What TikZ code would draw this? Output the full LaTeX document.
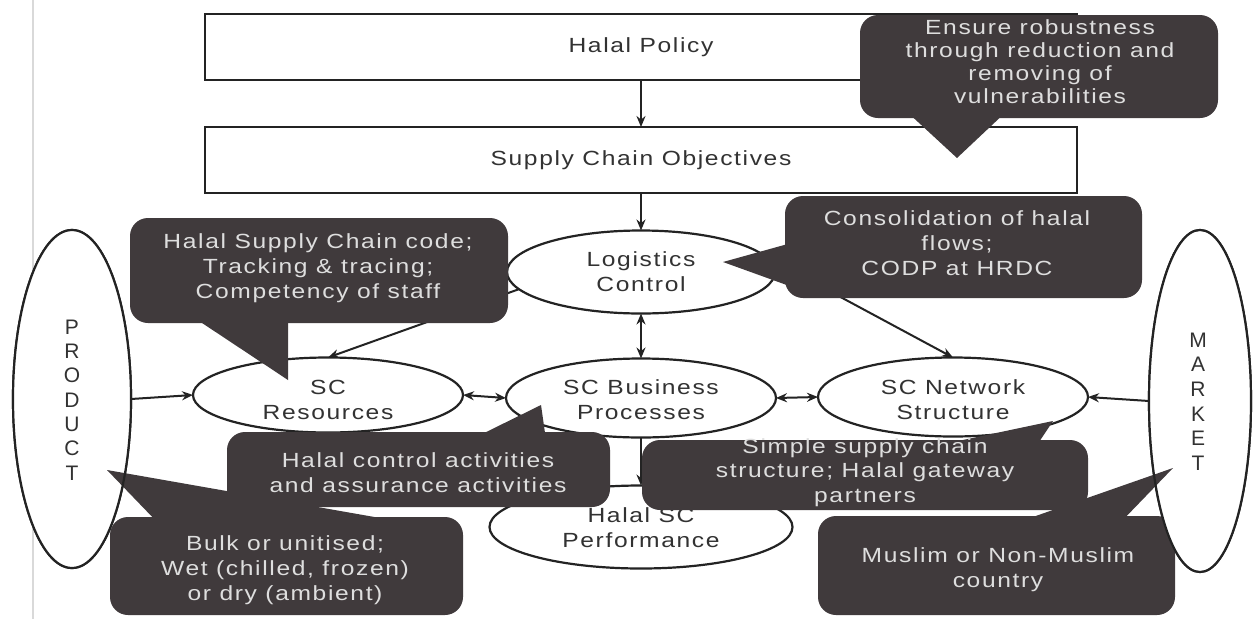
\documentclass[tikz,border=0pt]{standalone}
\usepackage{fontspec}
\setmainfont{Liberation Sans}
\newfontfamily\diag[FakeStretch=1.2,LetterSpace=8]{Liberation Sans}
\usetikzlibrary{shapes.geometric,arrows.meta}
\definecolor{cfill}{RGB}{64,58,60}
\definecolor{ctext}{RGB}{222,222,222}
\definecolor{ink}{RGB}{35,35,35}
\definecolor{txt}{RGB}{50,50,50}
\begin{document}
\begin{tikzpicture}[x=1pt,y=-1pt,
  every node/.style={inner sep=0pt, outer sep=0pt},
  fnt/.style={font=\diag\fontsize{20.5}{#1}\selectfont},
  fnt/.default=25,
  boxnode/.style={draw=ink, line width=2.2pt, fill=white, minimum width=872pt, minimum height=66pt},
  oval/.style={ellipse, draw=ink, line width=2.2pt, fill=white},
  ovaledge/.style={ellipse, draw=ink, line width=2.2pt},
  callout/.style={fill=cfill, rounded corners=18pt},
  btxt/.style={fnt, text=txt, align=center},
  ctxt/.style={fnt=#1, text=ctext, align=center},
  ctxt/.default=25,
  conn/.style={draw=ink, line width=2pt, -{Stealth[length=11pt,width=9pt]}},
  dconn/.style={draw=ink, line width=2pt, {Stealth[length=11pt,width=9pt]}-{Stealth[length=11pt,width=9pt]}},
]
\useasboundingbox (0,0) rectangle (1254,619);
\fill[white] (0,0) rectangle (1254,619);
\draw[line width=1.2pt, color=black!15] (33,0) -- (33,619);

% main boxes
\node[boxnode] (pol) at (641,47) {};
\node[btxt] (polt) at (641,47) {Halal Policy};
\node[boxnode] (obj) at (641,160) {};
\node[btxt] (objt) at (641,160) {Supply Chain Objectives};

% ellipses
\node[oval, minimum width=268pt, minimum height=83pt] (L) at (641,272) {};
\node[btxt] (Lt) at (641,272) {Logistics\\Control};
\node[oval, minimum width=270pt, minimum height=75pt] (R) at (328,395) {};
\node[btxt] (Rt) at (328,400) {SC\\Resources};
\node[oval, minimum width=270pt, minimum height=79pt] (B) at (641,398) {};
\node[btxt] (Bt) at (641,400) {SC Business\\Processes};
\node[oval, minimum width=270pt, minimum height=79pt] (N) at (953,397) {};
\node[btxt] (Nt) at (953,400) {SC Network\\Structure};
\node[oval, minimum width=303pt, minimum height=83pt] (P) at (641,527) {};
\node[btxt] (Pt) at (641,528) {Halal SC\\Performance};
\node[oval, minimum width=118pt, minimum height=338pt] (prod) at (72,399) {};
\node[oval, minimum width=102pt, minimum height=342pt] (mkt) at (1200,401) {};

% connectors
\draw[conn] (pol.south) -- (obj.north);
\draw[conn] (obj.south) -- (L.north);
\draw[dconn] (L.south) -- (B.north);
\draw[conn] (L.188) -- (R.north);
\draw[conn] (L.7) -- (N.north);
\draw[dconn] (R.east) -- (B.west);
\draw[dconn] (B.east) -- (N.west);
\draw[conn] (B.south) -- (P.north);
\draw[conn] (prod.east) -- (R.west);
\draw[conn] (mkt.west) -- (N.east);

% callouts
\node[callout, minimum width=358pt, minimum height=103pt] (c1) at (1039,66.5) {};
\fill[cfill] (905,110) -- (957,158) -- (1008,110) -- cycle;
\node[ctxt=23] (t1) at (1040,61.5) {Ensure robustness\\through reduction and\\removing of\\vulnerabilities};

\node[callout, minimum width=357pt, minimum height=102pt] (c2) at (963.5,247) {};
\fill[cfill] (795,242) -- (723,262) -- (795,288) -- cycle;
\node[ctxt] (t2) at (957,243) {Consolidation of halal\\flows;\\CODP at HRDC};

\node[callout, minimum width=378pt, minimum height=105pt] (c3) at (319,270.5) {};
\fill[cfill] (190,315) -- (288,380) -- (288,315) -- cycle;
\node[ctxt] (t3) at (318,268) {Halal Supply Chain code;\\Tracking \& tracing;\\Competency of staff};

\node[callout, minimum width=383pt, minimum height=75pt] (c4) at (418.5,469.5) {};
\fill[cfill] (470,440) -- (541,405) -- (546,440) -- (560,440) -- cycle;
\node[ctxt] (t4) at (418,472.5) {Halal control activities\\and assurance activities};

\node[callout, minimum width=446pt, minimum height=70pt] (c5) at (865,475) {};
\fill[cfill] (925,448) -- (1053,421) -- (1035,448) -- cycle;
\node[ctxt=24.5] (t5) at (865,472.5) {Simple supply chain\\structure; Halal gateway\\partners};

\node[callout, minimum width=353pt, minimum height=98pt] (c6) at (286.5,566) {};
\node[callout, minimum width=357pt, minimum height=99pt] (c7) at (996.5,565.5) {};

% product / market fill over boxes, wedges and outlines over
\fill[white] (prod.center) ellipse [x radius=59pt, y radius=169pt];
\fill[white] (mkt.center) ellipse [x radius=51pt, y radius=171pt];
\fill[cfill] (107,470) -- (160,525) -- (420,525) -- cycle;
\fill[cfill] (1173,468) -- (1010,525) -- (1118,525) -- cycle;
\node[ovaledge, minimum width=118pt, minimum height=338pt] (prodo) at (prod) {};
\node[ovaledge, minimum width=102pt, minimum height=342pt] (mkto) at (mkt) {};
\node[btxt, font=\fontsize{21}{24.3}\selectfont] (prodt) at (72,400) {P\\R\\O\\D\\U\\C\\T};
\node[btxt, font=\fontsize{21}{24.6}\selectfont] (mktt) at (1198,401.5) {M\\A\\R\\K\\E\\T};

\node[ctxt] (t6) at (285,570) {Bulk or unitised;\\Wet (chilled, frozen)\\or dry (ambient)};
\node[ctxt] (t7) at (998,569.5) {Muslim or Non-Muslim\\country};
\end{tikzpicture}
\end{document}
